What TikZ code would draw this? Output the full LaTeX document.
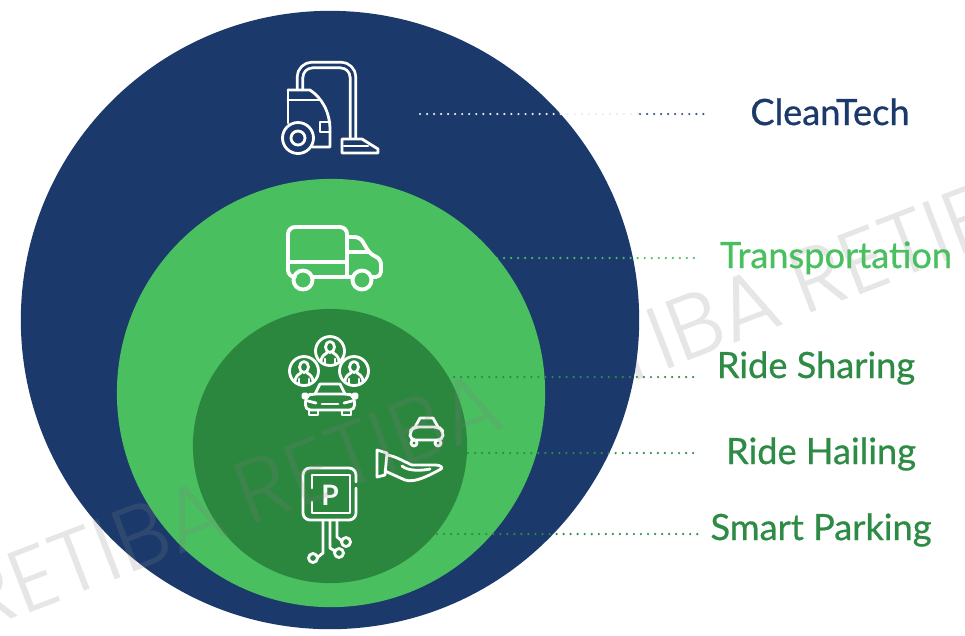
\documentclass[tikz,border=0pt]{standalone}
\usepackage{fontspec}
\setmainfont{Lato}
\newfontfamily\tagfont[FakeBold=0.7]{Lato}
\newfontfamily\markfont{Poppins Light}
\definecolor{navyc}{HTML}{1B3A6B}
\definecolor{greenc}{HTML}{4ABF60}
\definecolor{darkc}{HTML}{2B863E}
\definecolor{labelc}{HTML}{2E8B45}
\tikzset{
  disc/.style={circle,inner sep=0pt,minimum size=#1},
  icon/.style={white,line width=0.8pt,line join=round,line cap=round},
  leader/.style={line width=0.7pt,line cap=round,dash pattern=on 0pt off 2pt},
  tag/.style={font=\tagfont\fontsize{10.3}{12}\selectfont,inner sep=0pt,anchor=base},
  stamp/.style={opacity=0.2,text=gray,inner sep=0pt,rotate=21,font=\markfont\fontsize{25.5}{27}\selectfont}
}
\begin{document}
\begin{tikzpicture}[x=0.01cm,y=-0.01cm]
    \useasboundingbox (0,0) rectangle (965,635);

    % Watermark behind the circles
    \node[stamp] (markc) at (646,344) {RETIBA};
    \node[stamp] (markd) at (922,237) {RETIBA};

    % Nested circles
    \node[disc=6.18cm,fill=navyc] (outer) at (330,320) {};
    \node[disc=4.28cm,fill=greenc] (middle) at (331,393) {};
    \node[disc=2.74cm,fill=darkc] (inner) at (330,446) {};

    % Labels
    \node[tag,text=navyc] (clean) at (830,125) {CleanTech};
    \node[tag,text=greenc] (trans) at (836,268) {Transportation};
    \node[tag,text=labelc] (share) at (816,378) {Ride Sharing};
    \node[tag,text=labelc] (hail) at (821,464) {Ride Hailing};
    \node[tag,text=labelc] (park) at (821,540) {Smart Parking};

    % Leaders
    \coordinate (cleanend) at (420,114);
    \coordinate (cleanedge) at (640,114);
    \coordinate (cleanlab) at (705,114);
    \coordinate (transend) at (497,258);
    \coordinate (translab) at (696,258);
    \coordinate (shareend) at (447,377);
    \coordinate (sharelab) at (696,377);
    \coordinate (hailend) at (468,453);
    \coordinate (haillab) at (696,453);
    \coordinate (parkend) at (437,534);
    \coordinate (parklab) at (698,534);
    \draw[leader,white!90!navyc] (cleanend) -- (cleanedge);
    \draw[leader,navyc!85] (cleanedge) -- (cleanlab);
    \draw[leader,greenc] (transend) -- (translab);
    \draw[leader,labelc] (shareend) -- (sharelab);
    \draw[leader,labelc] (hailend) -- (haillab);
    \draw[leader,labelc] (parkend) -- (parklab);

    % Vacuum cleaner
    \draw[icon,double=navyc,double distance=0.8pt,line cap=butt,rounded corners=3.5pt] (300,90) -- (300,65) -- (353,65) -- (353,138);
    \draw[icon] (288,90) -- (310,90) .. controls (322,98) and (330,112) .. (330,130) -- (330,147) -- (312,147);
    \draw[icon] (288,123) -- (288,90);
    \draw[icon] (288,100) -- (320,100);
    \draw[icon] (330,122) -- (320,122) -- (320,132) -- (330,132);
    \draw[icon] (298,138) circle (15.5);
    \draw[icon] (298,138) circle (7);
    \draw[icon] (342,139) -- (362,139) -- (378,149) -- (378,153) -- (342,153) -- cycle;
    \draw[icon] (344,146) -- (368,146);

    % Truck
    \begin{scope}[icon/.append style={line width=1.1pt}]
    \draw[icon,rounded corners=2pt] (293,277) -- (288,277) -- (288,227) -- (347,227) -- (347,277);
    \draw[icon] (288,262) -- (347,262);
    \draw[icon,rounded corners=1.5pt] (348,237) -- (360,237) -- (370,254) -- (381,259) -- (381,277) -- (372,277);
    \draw[icon] (348,252) -- (369,252);
    \draw[icon] (313,277) -- (352,277);
    \draw[icon] (303,280) circle (9.5);
    \draw[icon] (362,280) circle (9.5);
    \end{scope}

    % Riders
    \foreach \cx/\cy in {330/351,304/371,354/371} {
      \begin{scope}[shift={(\cx,\cy)}]
        \draw[icon] (0,0) circle (14.5);
        \draw[icon] (0,-4) ellipse (4.5 and 5.5);
        \draw[icon,rounded corners=1.5pt] (-9,11) -- (-9,5) -- (-3,2) (3,2) -- (9,5) -- (9,11);
        \draw[icon] (-5,13) -- (-5,8) (5,13) -- (5,8);
      \end{scope}
    }

    % Shared car
    \draw[icon] (315,394) -- (320,384) -- (340,384) -- (345,394);
    \draw[icon,rounded corners=1.5pt] (306,396) -- (311,394) -- (349,394) -- (354,396) -- (355,410) -- (305,410) -- cycle;
    \draw[icon,rounded corners=1pt] (303,394) rectangle (307,398);
    \draw[icon,rounded corners=1pt] (353,394) rectangle (357,398);
    \draw[icon] (322,404) -- (338,404);
    \draw[icon] (308,401) -- (316,403) (352,401) -- (344,403);
    \draw[icon] (309,410) rectangle (318,415);
    \draw[icon] (342,410) rectangle (351,415);

    % Hailed car
    \draw[icon] (415,427) -- (420,418) -- (433,418) -- (438,427);
    \draw[icon,rounded corners=1.5pt] (410,431) -- (414,427) -- (439,427) -- (443,431) -- (443,440) -- (410,440) -- cycle;
    \draw[icon] (414,443) circle (3);
    \draw[icon] (438,443) circle (3);

    % Hand
    \draw[icon] (377,450) -- (387,453) -- (385,475) -- (377,477) -- cycle;
    \draw[icon] (387,455) .. controls (395,456) and (403,461) .. (412,465) -- (436,465) .. controls (441,465) and (443,468) .. (441,469) .. controls (428,476) and (415,483) .. (405,480) -- (385,471);
    \draw[icon] (402,466) .. controls (408,471) and (420,471) .. (430,469);

    % Parking sign
    \draw[icon,rounded corners=2pt] (356,482) -- (356,468) -- (303,468) -- (303,520) -- (356,520) -- (356,488);
    \draw[icon] (312,488) -- (312,475) -- (350,475) -- (350,513) -- (312,513) -- (312,502);
    \node[inner sep=0pt,text=white,font=\bfseries\fontsize{8}{9}\selectfont] (plabel) at (330,495) {P};
    \draw[icon] (323,520) -- (323,553) -- (318,557);
    \draw[icon] (330,520) -- (330,548) -- (335,551);
    \draw[icon] (337,520) -- (337,537) -- (342,541);
    \draw[icon] (313,558) circle (4.5);
    \draw[icon] (339,553) circle (4.5);
    \draw[icon] (346,542) circle (4.5);

    % Watermark in front
    \node[stamp] (marka) at (92,555) {RETIBA};
    \node[stamp] (markb) at (368,448) {RETIBA};
\end{tikzpicture}
\end{document}
